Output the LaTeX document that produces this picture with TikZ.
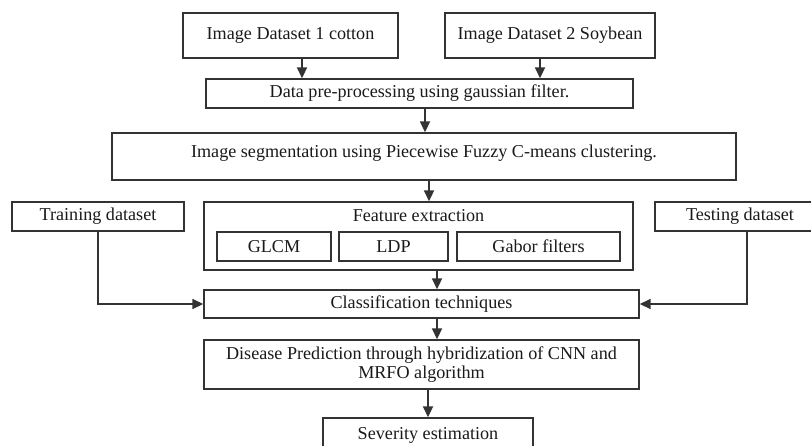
\documentclass[tikz,border=0pt]{standalone}
\usepackage{fontspec}
\setmainfont{Liberation Serif}
\usetikzlibrary{arrows.meta}
\definecolor{ln}{HTML}{333333}
\definecolor{tx}{HTML}{1A1A1A}
\begin{document}
\begin{tikzpicture}[x=0.75pt,y=-0.75pt,
  box/.style={draw=ln,line width=1.3pt,fill=white,inner sep=0pt,text=tx,font=\fontsize{13.6}{14}\selectfont,align=center},
  arr/.style={draw=ln,line width=1.3pt,-{Triangle[length=8pt,width=7.5pt]}}]
\useasboundingbox (0,0) rectangle (811,446);
\fill[white] (0,0) rectangle (811,446);
\node[box,minimum width=161.25pt,minimum height=33.75pt] (d1) at (290.5,35.5) {Image Dataset 1 cotton};
\node[box,minimum width=157.5pt,minimum height=33.75pt] (d2) at (550,35.5) {Image Dataset 2 Soybean};
\node[box,minimum width=320.25pt,minimum height=21.75pt] (pre) at (419.5,93.5) {Data pre-processing using gaussian filter.};
\node[box,minimum width=468pt,minimum height=35.25pt] (seg) at (424,156.5) {};
\node[text=tx,font=\fontsize{13.6}{14}\selectfont] (segtext) at (424,153) {Image segmentation using Piecewise Fuzzy C-means clustering.};
\node[box,minimum width=129pt,minimum height=21.75pt] (train) at (98,216.5) {Training dataset};
\node[box,minimum width=127.5pt,minimum height=21.75pt] (test) at (740,216.5) {Testing dataset};
\node[box,minimum width=321.75pt,minimum height=51pt] (feat) at (418.5,236) {};
\node[text=tx,font=\fontsize{13.6}{14}\selectfont] (feattitle) at (418.5,216) {Feature extraction};
\node[box,minimum width=85.5pt,minimum height=21.75pt] (glcm) at (274,246.5) {GLCM};
\node[box,minimum width=81.75pt,minimum height=21.75pt] (ldp) at (393.5,246.5) {LDP};
\node[box,minimum width=122.25pt,minimum height=21.75pt] (gabor) at (538.5,246.5) {Gabor filters};
\node[box,minimum width=326.25pt,minimum height=21pt] (cls) at (421.5,304) {Classification techniques};
\node[box,minimum width=326.25pt,minimum height=36.75pt] (dis) at (421.5,364.5) {Disease Prediction through hybridization of CNN and\\MRFO algorithm};
\node[box,minimum width=157.5pt,minimum height=25.5pt] (sev) at (428,435) {Severity estimation};
\coordinate (xa) at (302,0);
\coordinate (xb) at (540,0);
\coordinate (xc) at (425,0);
\coordinate (xd) at (429,0);
\coordinate (xe) at (437,0);
\coordinate (xf) at (428,0);
\coordinate (xg) at (747,0);
\draw[arr] (d1.south -| xa) -- (pre.north -| xa);
\draw[arr] (d2.south -| xb) -- (pre.north -| xb);
\draw[arr] (pre.south -| xc) -- (seg.north -| xc);
\draw[arr] (seg.south -| xd) -- (feat.north -| xd);
\draw[arr] (feat.south -| xe) -- (cls.north -| xe);
\draw[arr] (cls.south -| xe) -- (dis.north -| xe);
\draw[arr] (dis.south -| xf) -- (sev.north -| xf);
\draw[arr] (train.south) |- (cls.west);
\draw[arr] (test.south -| xg) |- (cls.east);
\end{tikzpicture}
\end{document}
